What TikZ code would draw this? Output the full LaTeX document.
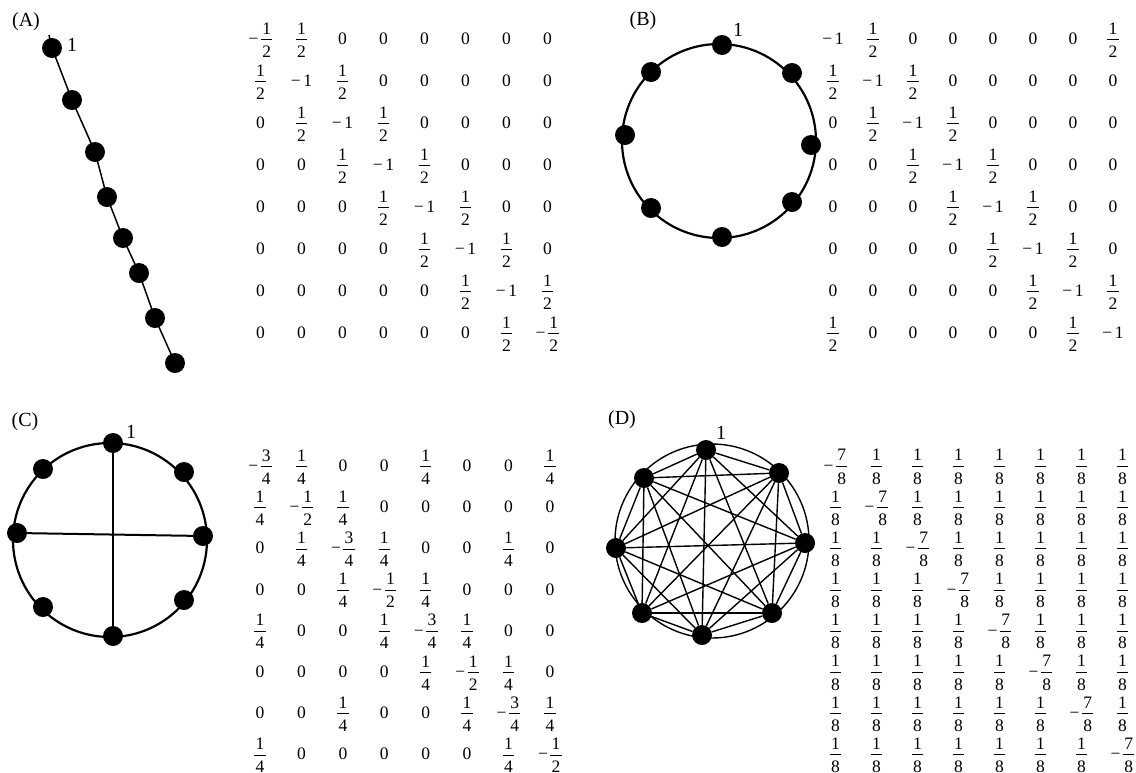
\documentclass[tikz,border=0pt]{standalone}
\usepackage{fontspec}
\setmainfont{Liberation Serif}
\usetikzlibrary{matrix}
\newsavebox\frnum
\newsavebox\frden
\newlength\frwd
\newcommand{\fr}[2]{%
  \sbox\frnum{#1}\sbox\frden{#2}%
  \setlength\frwd{\wd\frnum}%
  \ifdim\wd\frden>\frwd \setlength\frwd{\wd\frden}\fi
  \addtolength\frwd{2.5pt}%
  \raisebox{5pt}{%
    \rlap{\makebox[\frwd]{\raisebox{5.5pt}{\usebox\frnum}}}%
    \rlap{\raisebox{-0.4pt}{\rule{\frwd}{0.8pt}}}%
    \makebox[\frwd]{\raisebox{-17.6pt}{\usebox\frden}}}}
\newcommand{\mn}{−\hspace{2.5pt}}
\tikzset{
  dot/.style={circle, fill=black, minimum size=20pt, inner sep=0pt},
  tag/.style={font=\fontsize{20}{24}\selectfont, inner sep=0pt},
  ring/.style={line width=2.2pt},
  chain/.style={line width=1.5pt},
  cross/.style={line width=2pt},
  kedge/.style={line width=1.4pt},
  gridmat/.style={matrix of nodes, inner sep=0pt,
    nodes={anchor=base, text width=32pt, align=center, inner sep=0pt,
      font=\fontsize{17.5}{20}\selectfont},
    column sep={41pt,between origins}, row sep={42pt,between origins}},
}
\begin{document}
\begin{tikzpicture}[x=1pt, y=-1pt]
  \clip (0,0) rectangle (1136,772);
  \fill[white] (0,0) rectangle (1136,772);

  % (A) path
  \node[tag] (labA) at (26,22) {(A)};
  \coordinate (a0) at (49,35);
  \node[dot] (a1) at (52,48) {};
  \node[dot] (a2) at (72,100) {};
  \node[dot] (a3) at (95,152) {};
  \node[dot] (a4) at (107,197) {};
  \node[dot] (a5) at (123,238) {};
  \node[dot] (a6) at (139,273) {};
  \node[dot] (a7) at (155,318) {};
  \node[dot] (a8) at (175,363) {};
  \draw[chain] (a0) -- (a1.center) -- (a2.center) -- (a3.center) -- (a4.center)
    -- (a5.center) -- (a6.center) -- (a7.center) -- (a8.center);
  \node[tag] (oneA) at (72,45) {1};
  \matrix (MA) [gridmat] at (404,187) {
    \mn\fr12 & \fr12 & 0 & 0 & 0 & 0 & 0 & 0 \\
    \fr12 & \mn1 & \fr12 & 0 & 0 & 0 & 0 & 0 \\
    0 & \fr12 & \mn1 & \fr12 & 0 & 0 & 0 & 0 \\
    0 & 0 & \fr12 & \mn1 & \fr12 & 0 & 0 & 0 \\
    0 & 0 & 0 & \fr12 & \mn1 & \fr12 & 0 & 0 \\
    0 & 0 & 0 & 0 & \fr12 & \mn1 & \fr12 & 0 \\
    0 & 0 & 0 & 0 & 0 & \fr12 & \mn1 & \fr12 \\
    0 & 0 & 0 & 0 & 0 & 0 & \fr12 & \mn\fr12 \\
  };

  % (B) ring
  \node[tag] (labB) at (643,21) {(B)};
  \draw[ring] (719,141) circle[radius=97pt];
  \node[dot] (b1) at (722,45) {};
  \node[dot] (b2) at (792,73) {};
  \node[dot] (b3) at (811,145) {};
  \node[dot] (b4) at (792,202) {};
  \node[dot] (b5) at (722,237) {};
  \node[dot] (b6) at (651,208) {};
  \node[dot] (b7) at (625,135) {};
  \node[dot] (b8) at (651,72) {};
  \node[tag] (oneB) at (738,30) {1};
  \matrix (MB) [gridmat, column sep={40pt,between origins}] at (973,187) {
    \mn1 & \fr12 & 0 & 0 & 0 & 0 & 0 & \fr12 \\
    \fr12 & \mn1 & \fr12 & 0 & 0 & 0 & 0 & 0 \\
    0 & \fr12 & \mn1 & \fr12 & 0 & 0 & 0 & 0 \\
    0 & 0 & \fr12 & \mn1 & \fr12 & 0 & 0 & 0 \\
    0 & 0 & 0 & \fr12 & \mn1 & \fr12 & 0 & 0 \\
    0 & 0 & 0 & 0 & \fr12 & \mn1 & \fr12 & 0 \\
    0 & 0 & 0 & 0 & 0 & \fr12 & \mn1 & \fr12 \\
    \fr12 & 0 & 0 & 0 & 0 & 0 & \fr12 & \mn1 \\
  };

  % (C) ring with cross
  \node[tag] (labC) at (25,422) {(C)};
  \draw[ring] (110,540) circle[radius=97pt];
  \node[dot] (c1) at (113,443) {};
  \node[dot] (c2) at (184,472) {};
  \node[dot] (c3) at (203,536) {};
  \node[dot] (c4) at (184,600) {};
  \node[dot] (c5) at (113,636) {};
  \node[dot] (c6) at (43,607) {};
  \node[dot] (c7) at (17,533) {};
  \node[dot] (c8) at (43,469) {};
  \draw[cross] (c1) -- (c5);
  \draw[cross] (c7) -- (c3);
  \node[tag] (oneC) at (131,432) {1};
  \matrix (MC) [gridmat, row sep={41.2pt,between origins},
      column sep={41.4pt,between origins}] at (405,611) {
    \mn\fr34 & \fr14 & 0 & 0 & \fr14 & 0 & 0 & \fr14 \\
    \fr14 & \mn\fr12 & \fr14 & 0 & 0 & 0 & 0 & 0 \\
    0 & \fr14 & \mn\fr34 & \fr14 & 0 & 0 & \fr14 & 0 \\
    0 & 0 & \fr14 & \mn\fr12 & \fr14 & 0 & 0 & 0 \\
    \fr14 & 0 & 0 & \fr14 & \mn\fr34 & \fr14 & 0 & 0 \\
    0 & 0 & 0 & 0 & \fr14 & \mn\fr12 & \fr14 & 0 \\
    0 & 0 & \fr14 & 0 & 0 & \fr14 & \mn\fr34 & \fr14 \\
    \fr14 & 0 & 0 & 0 & 0 & 0 & \fr14 & \mn\fr12 \\
  };

  % (D) complete graph
  \node[tag] (labD) at (622,420) {(D)};
  \draw[kedge] (712,541) circle[radius=97pt];
  \node[dot] (d1) at (706,450) {};
  \node[dot] (d2) at (779,473) {};
  \node[dot] (d3) at (805,543) {};
  \node[dot] (d4) at (772,613) {};
  \node[dot] (d5) at (702,635) {};
  \node[dot] (d6) at (642,613) {};
  \node[dot] (d7) at (616,548) {};
  \node[dot] (d8) at (644,478) {};
  \foreach \i in {1,...,7}{
    \pgfmathtruncatemacro\nxt{\i+1}
    \foreach \j in {\nxt,...,8}
      \draw[kedge] (d\i) -- (d\j);
  }
  \node[tag] (oneD) at (721,433) {1};
  \matrix (MD) [gridmat, row sep={41.2pt,between origins}] at (979,611) {
    \mn\fr78 & \fr18 & \fr18 & \fr18 & \fr18 & \fr18 & \fr18 & \fr18 \\
    \fr18 & \mn\fr78 & \fr18 & \fr18 & \fr18 & \fr18 & \fr18 & \fr18 \\
    \fr18 & \fr18 & \mn\fr78 & \fr18 & \fr18 & \fr18 & \fr18 & \fr18 \\
    \fr18 & \fr18 & \fr18 & \mn\fr78 & \fr18 & \fr18 & \fr18 & \fr18 \\
    \fr18 & \fr18 & \fr18 & \fr18 & \mn\fr78 & \fr18 & \fr18 & \fr18 \\
    \fr18 & \fr18 & \fr18 & \fr18 & \fr18 & \mn\fr78 & \fr18 & \fr18 \\
    \fr18 & \fr18 & \fr18 & \fr18 & \fr18 & \fr18 & \mn\fr78 & \fr18 \\
    \fr18 & \fr18 & \fr18 & \fr18 & \fr18 & \fr18 & \fr18 & \mn\fr78 \\
  };
\end{tikzpicture}
\end{document}
